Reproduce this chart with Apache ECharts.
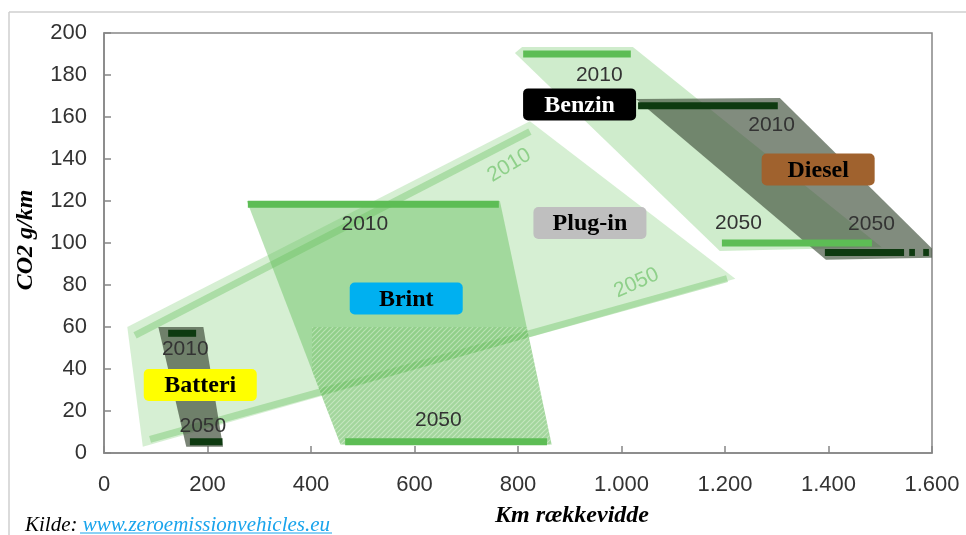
<!DOCTYPE html>
<html><head><meta charset="utf-8">
<script src="https://cdn.jsdelivr.net/npm/echarts@6/dist/echarts.min.js"></script>
<style>html,body{margin:0;padding:0;background:#fff}#c{width:966px;height:535px}</style>
</head><body><div id="c"></div>
<script>
// ---- axes ----
const xTickLabels = ['0','200','400','600','800','1.000','1.200','1.400','1.600'];
const yTickLabels = ['0','20','40','60','80','100','120','140','160','180','200'];

// ---- areas (km, g/km) ----
const plugInArea  = [[45,60],[823,158],[1220,83],[75,3]];
const brintArea   = [[276,120],[765,120],[865,4],[457,4]];
const brintHatch  = [[402,60],[817,60],[865,4],[457,4],[402,39]];
const batteriArea = [[105,60],[192,60],[230,3],[159,3]];
const benzinArea  = [[794,190.5],[808,193.3],[1022,193.3],[1503,98],[1190,96.2]];
const dieselArea  = [[1028,168.6],[1306,169],[1618,93],[1395,92]];

// ---- 2010 / 2050 bars: [xFrom, xTo, y] ----
const benzinBars  = [[810,1018,190],[1194,1484,100]];
const brintBars   = [[278,763,118.4],[466,856,5.4]];
const dieselBars  = [[1032,1302,165.4],[1393,1546,95.5],[1556,1567,95.5],[1583,1594,95.5]];
const batteriBars = [[124,178,57],[166,229,5.4]];
// plug-in lines: [x1, y1, x2, y2]
const plugInLines = [[60,56,823,153],[89,6.5,1204,83]];

// ---- year labels: [x, y, text] ----
const yearLabels = [
  [957,180,'2010'],[1226,109.4,'2050'],
  [1290,156,'2010'],[1483,109,'2050'],
  [504,109,'2010'],[646,15.4,'2050'],
  [157,49.4,'2010'],[191,12.9,'2050']
];
// plug-in year labels: [x, y, text, angle]
const plugInYearLabels = [[783,137,'2010',31],[1029,81,'2050',24]];

// ---- technology labels: [x, y, text] ----
const techLabels = [
  [919,166,'Benzin'],[1380,135,'Diesel'],[939,109.5,'Plug-in'],
  [584,73.6,'Brint'],[186,32.4,'Batteri']
];
const techStyle = {
  'Benzin':  {bg:'#000000', fg:'#ffffff'},
  'Diesel':  {bg:'#a0622e', fg:'#000000'},
  'Plug-in': {bg:'#bfbfbf', fg:'#000000'},
  'Brint':   {bg:'#00b0f0', fg:'#000000'},
  'Batteri': {bg:'#ffff00', fg:'#000000'}
};

function makeHatch(){
  const c=document.createElement('canvas'); c.width=5; c.height=5;
  const g=c.getContext('2d');
  g.fillStyle='rgba(80,170,70,0.22)'; g.fillRect(0,0,5,5);
  g.strokeStyle='rgba(235,250,230,0.45)'; g.lineWidth=1.2;
  g.beginPath();
  g.moveTo(-1,6); g.lineTo(6,-1);
  g.moveTo(-1,1); g.lineTo(1,-1);
  g.moveTo(4,6); g.lineTo(6,4);
  g.stroke();
  return c;
}
const hatch = makeHatch();

function polySeries(pts, fill, z){
  return {type:'custom', coordinateSystem:'cartesian2d', clip:true, silent:true, z,
    data: pts,
    renderItem(params, api){
      if(params.dataIndex!==0) return;
      return {type:'polygon', shape:{points: pts.map(p=>api.coord(p))}, style:{fill}};
    }};
}
function barSeries(bars, color, width, z){
  return {type:'custom', coordinateSystem:'cartesian2d', clip:true, silent:true, z,
    data: bars.map(b=>[b[0],b[2],b[1]]),
    encode:{x:[0,2], y:1},
    renderItem(params, api){
      const b=bars[params.dataIndex];
      const p1=api.coord([b[0],b[2]]), p2=api.coord([b[1],b[2]]);
      return {type:'line', shape:{x1:p1[0],y1:p1[1],x2:p2[0],y2:p2[1]}, style:{stroke:color, lineWidth:width}};
    }};
}
function slantSeries(lines, color, width, z){
  return {type:'custom', coordinateSystem:'cartesian2d', clip:true, silent:true, z,
    data: lines.map(l=>[l[0],l[1]]),
    renderItem(params, api){
      const l=lines[params.dataIndex];
      const p1=api.coord([l[0],l[1]]), p2=api.coord([l[2],l[3]]);
      return {type:'line', shape:{x1:p1[0],y1:p1[1],x2:p2[0],y2:p2[1]}, style:{stroke:color, lineWidth:width}};
    }};
}
function textSeries(items, color, z){
  return {type:'custom', coordinateSystem:'cartesian2d', silent:true, z,
    data: items.map(t=>[t[0],t[1]]),
    renderItem(params, api){
      const t=items[params.dataIndex];
      const p=api.coord([t[0],t[1]]);
      return {type:'text', x:p[0], y:p[1], rotation:(t[3]||0)*Math.PI/180,
        style:{text:t[2], fill:color, font:'21px "Liberation Sans", Arial, sans-serif', align:'center', verticalAlign:'middle'}};
    }};
}
function boxSeries(items, z){
  return {type:'custom', coordinateSystem:'cartesian2d', silent:true, z,
    data: items.map(t=>[t[0],t[1]]),
    renderItem(params, api){
      const t=items[params.dataIndex];
      const p=api.coord([t[0],t[1]]);
      const s=techStyle[t[2]];
      return {type:'group', children:[
        {type:'rect', shape:{x:p[0]-56.5, y:p[1]-16, width:113, height:32, r:5}, style:{fill:s.bg}},
        {type:'text', x:p[0], y:p[1]+1, style:{text:t[2], fill:s.fg, font:'bold 24px "Liberation Serif", "Times New Roman", serif', align:'center', verticalAlign:'middle'}}
      ]};
    }};
}

const chart = echarts.init(document.getElementById('c'), null, {renderer:'canvas'});
const axisColor = '#868686';
chart.setOption({
  animation:false,
  grid:{left:104, right:34, top:33, bottom:82, show:true, borderColor:axisColor, borderWidth:1.5, outerBoundsMode:'none'},
  xAxis:{type:'value', min:0, max:1600, interval:200,
    axisLine:{show:true, lineStyle:{color:axisColor, width:1.5}},
    axisTick:{show:true, inside:true, length:7, lineStyle:{color:axisColor, width:1.5}},
    axisLabel:{fontSize:22, color:'#333', fontFamily:'"Liberation Sans", Arial, sans-serif', margin:21,
      formatter:(v)=>xTickLabels[Math.round(v/200)]},
    splitLine:{show:false}},
  yAxis:{type:'value', min:0, max:200, interval:20,
    axisLine:{show:true, lineStyle:{color:axisColor, width:1.5}},
    axisTick:{show:true, inside:true, length:7, lineStyle:{color:axisColor, width:1.5}},
    axisLabel:{fontSize:22, color:'#333', fontFamily:'"Liberation Sans", Arial, sans-serif', margin:17,
      formatter:(v)=>yTickLabels[Math.round(v/20)]},
    splitLine:{show:false}},
  graphic:[
    {type:'line', shape:{x1:9,y1:12,x2:966,y2:12}, style:{stroke:'#cfcfcf', lineWidth:1.5}},
    {type:'line', shape:{x1:9,y1:12,x2:9,y2:535}, style:{stroke:'#cfcfcf', lineWidth:1.5}},
    {type:'text', x:26, y:240, rotation:Math.PI/2,
      style:{text:'CO2 g/km', fill:'#000', font:'italic bold 24px "Liberation Serif", serif', align:'center', verticalAlign:'middle'}},
    {type:'text', x:572, y:516,
      style:{text:'Km rækkevidde', fill:'#000', font:'italic bold 24px "Liberation Serif", serif', align:'center', verticalAlign:'middle'}},
    {type:'text', x:25, y:525,
      style:{text:'{a|Kilde: }{b|www.zeroemissionvehicles.eu}', verticalAlign:'middle', align:'left',
        rich:{a:{fill:'#000', font:'italic 21px "Liberation Serif", serif'}, b:{fill:'#19a4ec', font:'italic 21px "Liberation Serif", serif'}}}},
    {type:'line', shape:{x1:80,y1:533,x2:332,y2:533}, style:{stroke:'#19a4ec', lineWidth:1}}
  ],
  series:[
    polySeries(plugInArea, 'rgba(130,205,120,0.33)', 1),
    slantSeries(plugInLines, 'rgba(120,200,110,0.45)', 7, 2),
    polySeries(brintArea, 'rgba(100,190,90,0.45)', 3),
    polySeries(brintHatch, {image:hatch, repeat:'repeat'}, 4),
    polySeries(batteriArea, 'rgba(70,85,65,0.72)', 5),
    polySeries(benzinArea, 'rgba(130,205,120,0.38)', 5),
    polySeries(dieselArea, 'rgba(70,85,65,0.68)', 6),
    barSeries(benzinBars, '#5dbd55', 7, 7),
    barSeries(brintBars, '#5dbd55', 7, 7),
    barSeries(dieselBars, '#0e3a10', 7, 7),
    barSeries(batteriBars, '#0e3a10', 7, 7),
    textSeries(yearLabels, '#333', 8),
    textSeries(plugInYearLabels, '#8fd08a', 8),
    boxSeries(techLabels, 9)
  ]
});
</script>
</body></html>
